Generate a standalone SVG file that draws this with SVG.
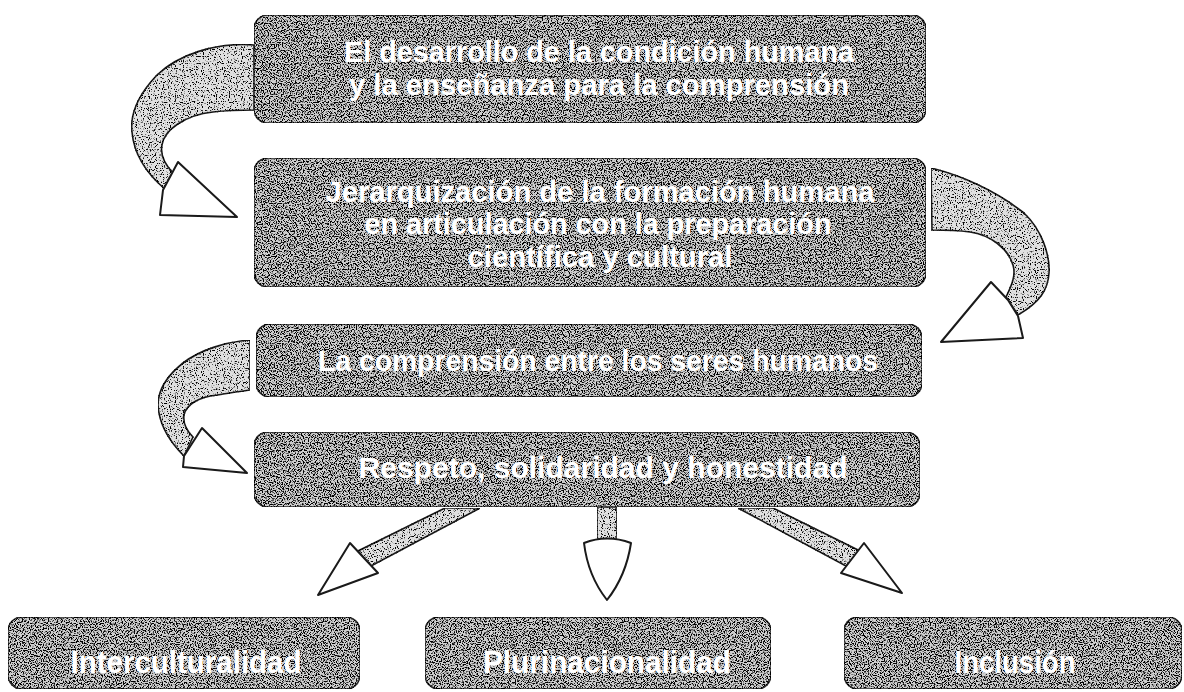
<svg xmlns="http://www.w3.org/2000/svg" width="1184" height="692" viewBox="0 0 1184 692">
  <defs>
    <filter id="grain" x="0" y="0" width="1" height="1" color-interpolation-filters="sRGB">
      <feTurbulence type="fractalNoise" baseFrequency="0.85" numOctaves="1" seed="7" result="n"/>
      <feColorMatrix in="n" type="matrix" values="0 0 0 0 0  0 0 0 0 0  0 0 0 0 0  9 0 0 0 -4.4" result="dots"/>
      <feComposite in="dots" in2="SourceAlpha" operator="in" result="d"/>
      <feMerge><feMergeNode in="SourceGraphic"/><feMergeNode in="d"/></feMerge>
    </filter>
    <filter id="grainLight" x="0" y="0" width="1" height="1" color-interpolation-filters="sRGB">
      <feTurbulence type="fractalNoise" baseFrequency="0.85" numOctaves="1" seed="3" result="n"/>
      <feColorMatrix in="n" type="matrix" values="0 0 0 0 0  0 0 0 0 0  0 0 0 0 0  9 0 0 0 -5.0" result="dots"/>
      <feComposite in="dots" in2="SourceAlpha" operator="in" result="d"/>
      <feMerge><feMergeNode in="SourceGraphic"/><feMergeNode in="d"/></feMerge>
    </filter>
  </defs>
  <style>
    .box { fill: #cfcfcf; stroke: #2a2a2a; stroke-width: 1.5; filter: url(#grain); }
    .lbl { font-family: "Liberation Sans", Arial, sans-serif; font-weight: 700; font-size: 29px; fill: #ffffff; text-anchor: middle; }
    .lbl2 { font-family: "Liberation Sans", Arial, sans-serif; font-weight: 700; font-size: 31px; fill: #ffffff; text-anchor: middle; }
    .shaft { fill: #e0e0e0; stroke: #1a1a1a; stroke-width: 1.6; filter: url(#grainLight); }
    .head { fill: #ffffff; stroke: #1a1a1a; stroke-width: 2; stroke-linejoin: round; }
  </style>
  <rect width="1184" height="692" fill="#ffffff"/>

  <g id="connectors">
    <!-- arrow 1: box1 -> box2 (left, curved) -->
    <path class="shaft" d="M254,45 C215,42 178,55 157,75 C138,95 130,115 132,132 C134,155 148,175 166,190 L174,174 C165,165 160,155 162,145 C164,130 185,115 213,112 C230,110 243,110 254,110 Z"/>
    <path class="head" d="M178,162 L237,217 L160,215 L163,190 Z"/>
    <!-- arrow 2: box2 -> box3 (right, curved) -->
    <path class="shaft" d="M931,168 C960,175 995,190 1024,213 C1042,230 1050,255 1049,273 C1048,290 1040,302 1018,315 L1006,297 C1012,285 1016,275 1013,265 C1008,248 990,235 970,232 C955,230 942,230 932,230 Z"/>
    <path class="head" d="M991,282 L1008,300 L1018,316 L1023,338 L941,342 Z"/>
    <!-- arrow 3: box3 -> box4 (left, curved) -->
    <path class="shaft" d="M250,340 C225,342 200,350 183,363 C168,375 158,390 158,405 C159,425 170,442 184,456 L193,437 C186,430 183,422 184,415 C186,405 198,397 217,395 C230,393 242,391 250,390 Z"/>
    <path class="head" d="M202,428 L247,473 L183,467 L184,456 Z"/>
    <!-- bottom arrows -->
    <path class="shaft" d="M445,508 L480,508 L371,566 L358,551 Z"/>
    <path class="head" d="M350,543 L378,573 L318,595 Z"/>
    <path class="shaft" d="M597,507 L617,507 L617,546 L597,546 Z"/>
    <path class="head" d="M584,543 Q607,534 631,543 Q626,576 607,600 Q588,576 584,543 Z"/>
    <path class="shaft" d="M738,508 L773,508 L860,551 L846,566 Z"/>
    <path class="head" d="M864,543 L902,593 L841,573 Z"/>
  </g>

  <g id="node-desarrollo">
    <rect class="box" x="254" y="15" width="672" height="108" rx="14"/>
    <text class="lbl" x="599" y="62" textLength="510" lengthAdjust="spacingAndGlyphs">El desarrollo de la condición humana</text>
    <text class="lbl" x="599" y="95" textLength="500" lengthAdjust="spacingAndGlyphs">y la enseñanza para la comprensión</text>
  </g>

  <g id="node-jerarquizacion">
    <rect class="box" x="254" y="158" width="672" height="129" rx="14"/>
    <text class="lbl" x="600" y="202" textLength="549" lengthAdjust="spacingAndGlyphs">Jerarquización de la formación humana</text>
    <text class="lbl" x="598" y="234" textLength="467" lengthAdjust="spacingAndGlyphs">en articulación con la preparación</text>
    <text class="lbl" x="600" y="267" textLength="265" lengthAdjust="spacingAndGlyphs">científica y cultural</text>
  </g>

  <g id="node-comprension">
    <rect class="box" x="256" y="324" width="666" height="73" rx="14"/>
    <text class="lbl" x="598" y="371" textLength="560" lengthAdjust="spacingAndGlyphs">La comprensión entre los seres humanos</text>
  </g>

  <g id="node-respeto">
    <rect class="box" x="254" y="432" width="666" height="75" rx="14"/>
    <text class="lbl" x="603" y="478" textLength="489" lengthAdjust="spacingAndGlyphs">Respeto, solidaridad y honestidad</text>
  </g>

  <g id="node-interculturalidad">
    <rect class="box" x="8" y="617" width="352" height="72" rx="14"/>
    <text class="lbl2" x="186" y="673" textLength="231" lengthAdjust="spacingAndGlyphs">Interculturalidad</text>
  </g>

  <g id="node-plurinacionalidad">
    <rect class="box" x="425" y="617" width="346" height="72" rx="14"/>
    <text class="lbl2" x="607" y="673" textLength="248" lengthAdjust="spacingAndGlyphs">Plurinacionalidad</text>
  </g>

  <g id="node-inclusion">
    <rect class="box" x="844" y="617" width="338" height="72" rx="14"/>
    <text class="lbl2" x="1015" y="673" textLength="121" lengthAdjust="spacingAndGlyphs">Inclusión</text>
  </g>
</svg>
